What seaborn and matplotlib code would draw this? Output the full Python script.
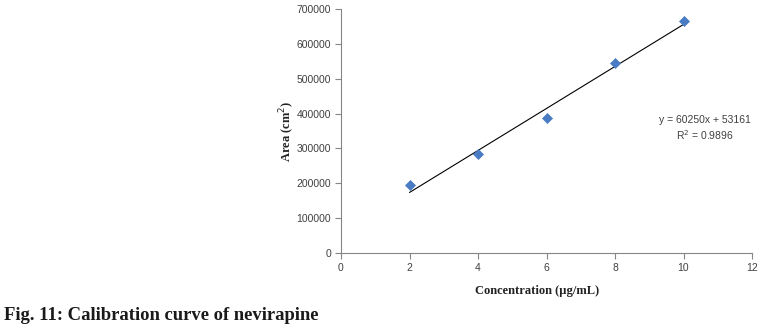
import numpy as np
import pandas as pd
import matplotlib
matplotlib.use("Agg")
import matplotlib.pyplot as plt
import seaborn as sns

# Calibration data
concentration = [2, 4, 6, 8, 10]
area = [194500, 283000, 386000, 545000, 664800]
slope = 60250
intercept = 53161
r_squared = 0.9896

x_ticks = [0, 2, 4, 6, 8, 10, 12]
y_ticks = [0, 100000, 200000, 300000, 400000, 500000, 600000, 700000]

sns.set_theme(style="white")
plt.rcParams["font.family"] = ["Liberation Sans", "DejaVu Sans"]

df = pd.DataFrame({"Concentration": concentration, "Area": area})
fit_x = np.array([concentration[0], concentration[-1]])
fit_df = pd.DataFrame({"Concentration": fit_x, "Area": slope * fit_x + intercept})

fig = plt.figure(figsize=(7.83, 3.34), dpi=100)
ax = fig.add_axes([341 / 783, 1 - 253 / 334, 411 / 783, 244 / 334])

sns.lineplot(data=fit_df, x="Concentration", y="Area", ax=ax, color="black", linewidth=0.8)
sns.scatterplot(data=df, x="Concentration", y="Area", ax=ax, marker="D", s=26,
                color="#4A7CC4", edgecolor="#4A7CC4", linewidth=0.5, zorder=3)

ax.set_xlim(0, 12)
ax.set_ylim(0, 700000)
ax.set_xticks(x_ticks)
ax.set_yticks(y_ticks)
ax.set_xticklabels([str(v) for v in x_ticks])
ax.set_yticklabels([str(v) for v in y_ticks])
ax.tick_params(axis="both", which="major", direction="out", length=4, width=0.8,
               color="#868686", labelsize=7.5, labelcolor="#404040", pad=3,
               bottom=True, left=True)
for side in ["top", "right"]:
    ax.spines[side].set_visible(False)
for side in ["left", "bottom"]:
    ax.spines[side].set_color("#868686")
    ax.spines[side].set_linewidth(0.8)

serif = ["Liberation Serif", "DejaVu Serif"]
ax.set_xlabel("Concentration (µg/mL)", fontsize=9, fontweight="bold", family=serif,
              color="#222222")
ax.xaxis.set_label_coords(0.477, -0.157, transform=ax.transAxes)
ax.xaxis.label.set_va("center")
ax.set_ylabel("Area (cm$^{2}$)", fontsize=9, fontweight="bold", family=serif,
              color="#222222", labelpad=0)

ax.text(0.885, 0.51, f"y = {slope}x + {intercept}\nR$^{{2}}$ = {r_squared}",
        transform=ax.transAxes, ha="center", va="center", fontsize=7.5,
        color="#404040", linespacing=1.2)

fig.text(4 / 783, 1 - 320 / 334, "Fig. 11: Calibration curve of nevirapine",
         fontsize=13.4, fontweight="bold", family=serif, color="#1a1a1a",
         ha="left", va="baseline")

fig.savefig("out.png", dpi=100)
